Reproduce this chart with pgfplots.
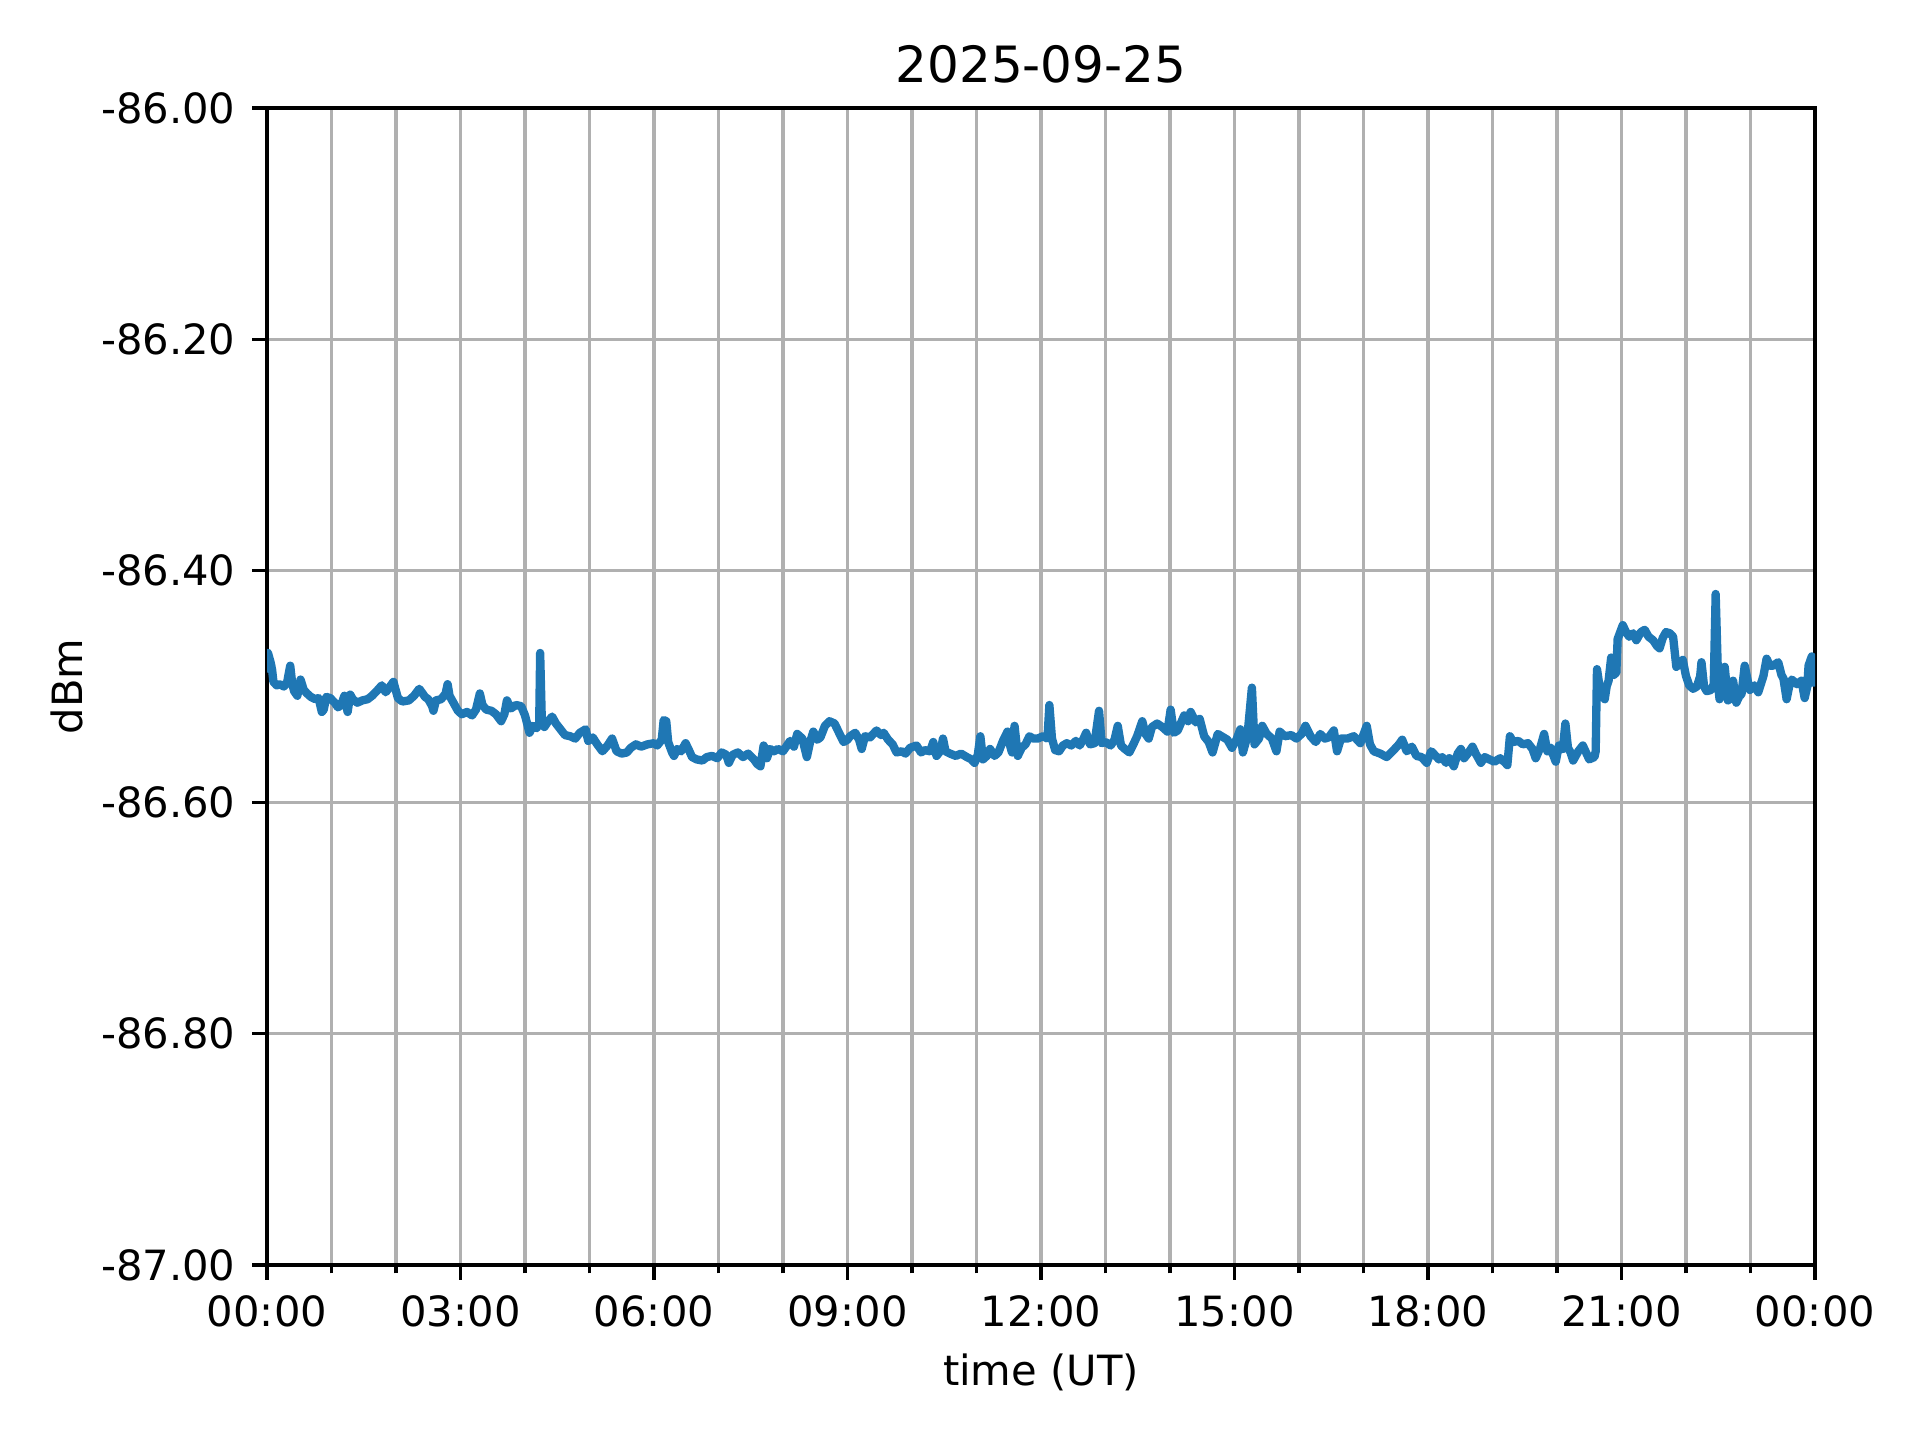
\documentclass[border=0pt]{standalone}
\usepackage{fontspec}
\setmainfont{DejaVu Sans}
\usepackage{pgfplots}
\pgfplotsset{compat=1.18}
\definecolor{mplblue}{HTML}{1F77B4}
\definecolor{gridgray}{HTML}{B0B0B0}
\pgfplotstableread{
h v
0.000 -86.488
0.015 -86.471
0.040 -86.476
0.060 -86.480
0.080 -86.486
0.100 -86.496
0.150 -86.499
0.200 -86.498
0.260 -86.500
0.310 -86.497
0.360 -86.482
0.390 -86.497
0.420 -86.504
0.470 -86.508
0.520 -86.494
0.570 -86.503
0.620 -86.506
0.680 -86.509
0.750 -86.511
0.800 -86.510
0.850 -86.522
0.880 -86.520
0.920 -86.509
0.980 -86.510
1.050 -86.514
1.100 -86.518
1.150 -86.516
1.200 -86.508
1.250 -86.522
1.290 -86.507
1.330 -86.511
1.400 -86.514
1.480 -86.512
1.560 -86.511
1.630 -86.508
1.700 -86.504
1.780 -86.499
1.840 -86.505
1.960 -86.496
2.030 -86.510
2.100 -86.513
2.200 -86.512
2.280 -86.508
2.360 -86.502
2.400 -86.505
2.450 -86.509
2.500 -86.511
2.560 -86.517
2.580 -86.521
2.620 -86.512
2.700 -86.511
2.770 -86.506
2.800 -86.498
2.830 -86.508
2.880 -86.513
2.960 -86.521
3.020 -86.524
3.100 -86.522
3.180 -86.525
3.240 -86.520
3.300 -86.506
3.340 -86.516
3.400 -86.520
3.480 -86.521
3.550 -86.524
3.630 -86.530
3.680 -86.524
3.720 -86.512
3.780 -86.519
3.860 -86.516
3.940 -86.517
4.000 -86.525
4.070 -86.540
4.120 -86.534
4.180 -86.536
4.220 -86.532
4.235 -86.471
4.260 -86.528
4.300 -86.535
4.360 -86.530
4.420 -86.526
4.480 -86.532
4.550 -86.537
4.620 -86.542
4.700 -86.543
4.780 -86.545
4.850 -86.540
4.940 -86.537
4.980 -86.547
5.050 -86.544
5.120 -86.550
5.200 -86.556
5.280 -86.551
5.350 -86.545
5.420 -86.556
5.500 -86.558
5.580 -86.557
5.640 -86.553
5.720 -86.550
5.800 -86.552
5.900 -86.550
6.000 -86.549
6.050 -86.551
6.120 -86.546
6.150 -86.529
6.190 -86.530
6.220 -86.548
6.280 -86.557
6.310 -86.560
6.360 -86.554
6.420 -86.556
6.490 -86.549
6.550 -86.556
6.590 -86.561
6.660 -86.563
6.750 -86.564
6.820 -86.561
6.900 -86.560
6.980 -86.562
7.050 -86.557
7.120 -86.559
7.160 -86.566
7.220 -86.559
7.300 -86.557
7.380 -86.561
7.460 -86.558
7.550 -86.563
7.600 -86.567
7.650 -86.569
7.700 -86.551
7.750 -86.562
7.800 -86.554
7.860 -86.556
7.920 -86.554
8.000 -86.556
8.050 -86.552
8.110 -86.547
8.170 -86.552
8.220 -86.541
8.300 -86.545
8.370 -86.561
8.420 -86.548
8.470 -86.539
8.530 -86.546
8.580 -86.544
8.650 -86.534
8.720 -86.530
8.800 -86.532
8.860 -86.539
8.940 -86.548
9.000 -86.546
9.040 -86.543
9.120 -86.540
9.180 -86.546
9.220 -86.554
9.270 -86.543
9.350 -86.544
9.450 -86.538
9.520 -86.542
9.560 -86.540
9.630 -86.546
9.700 -86.550
9.760 -86.557
9.840 -86.556
9.900 -86.558
9.970 -86.553
10.070 -86.551
10.140 -86.557
10.200 -86.555
10.280 -86.556
10.330 -86.548
10.380 -86.560
10.450 -86.555
10.480 -86.545
10.520 -86.556
10.590 -86.558
10.680 -86.560
10.760 -86.558
10.850 -86.561
10.920 -86.563
10.970 -86.566
11.020 -86.559
11.060 -86.543
11.100 -86.563
11.160 -86.560
11.210 -86.554
11.280 -86.560
11.340 -86.557
11.410 -86.547
11.480 -86.539
11.520 -86.551
11.550 -86.557
11.590 -86.534
11.640 -86.560
11.700 -86.553
11.760 -86.550
11.820 -86.543
11.880 -86.545
11.950 -86.545
12.030 -86.543
12.100 -86.545
12.130 -86.516
12.170 -86.545
12.220 -86.555
12.280 -86.556
12.340 -86.551
12.400 -86.549
12.470 -86.551
12.540 -86.547
12.600 -86.551
12.660 -86.545
12.700 -86.540
12.760 -86.550
12.830 -86.549
12.900 -86.521
12.940 -86.549
13.000 -86.548
13.080 -86.551
13.140 -86.546
13.190 -86.534
13.240 -86.551
13.300 -86.554
13.370 -86.557
13.440 -86.549
13.490 -86.543
13.570 -86.530
13.620 -86.541
13.670 -86.545
13.720 -86.535
13.800 -86.532
13.880 -86.535
13.960 -86.539
14.010 -86.520
14.060 -86.540
14.120 -86.538
14.220 -86.525
14.280 -86.530
14.320 -86.522
14.400 -86.531
14.460 -86.528
14.530 -86.543
14.600 -86.548
14.660 -86.557
14.740 -86.541
14.800 -86.543
14.890 -86.546
14.960 -86.553
15.030 -86.546
15.090 -86.537
15.130 -86.557
15.200 -86.543
15.270 -86.501
15.310 -86.550
15.380 -86.545
15.430 -86.534
15.500 -86.541
15.580 -86.545
15.650 -86.556
15.700 -86.539
15.780 -86.543
15.880 -86.542
15.960 -86.545
16.040 -86.541
16.100 -86.534
16.180 -86.543
16.260 -86.548
16.330 -86.541
16.400 -86.545
16.460 -86.544
16.540 -86.538
16.590 -86.556
16.650 -86.545
16.750 -86.545
16.850 -86.543
16.950 -86.549
17.050 -86.534
17.100 -86.550
17.160 -86.556
17.260 -86.558
17.360 -86.561
17.450 -86.556
17.550 -86.550
17.600 -86.546
17.670 -86.556
17.750 -86.552
17.820 -86.560
17.900 -86.561
17.980 -86.566
18.050 -86.556
18.120 -86.560
18.170 -86.563
18.220 -86.561
18.280 -86.566
18.330 -86.562
18.400 -86.569
18.460 -86.558
18.510 -86.554
18.560 -86.562
18.630 -86.557
18.690 -86.552
18.740 -86.558
18.820 -86.566
18.880 -86.561
18.950 -86.563
19.030 -86.565
19.120 -86.562
19.200 -86.566
19.230 -86.568
19.270 -86.543
19.320 -86.548
19.400 -86.547
19.470 -86.550
19.550 -86.549
19.620 -86.554
19.670 -86.562
19.740 -86.553
19.800 -86.541
19.850 -86.556
19.900 -86.553
19.980 -86.565
20.030 -86.551
20.090 -86.554
20.130 -86.532
20.170 -86.553
20.210 -86.557
20.250 -86.564
20.330 -86.556
20.400 -86.551
20.450 -86.557
20.500 -86.563
20.580 -86.561
20.600 -86.556
20.620 -86.485
20.660 -86.500
20.700 -86.506
20.740 -86.511
20.770 -86.500
20.800 -86.495
20.840 -86.475
20.880 -86.490
20.920 -86.488
20.940 -86.459
20.980 -86.453
21.020 -86.447
21.070 -86.453
21.120 -86.457
21.180 -86.454
21.230 -86.460
21.300 -86.453
21.360 -86.451
21.420 -86.457
21.490 -86.460
21.550 -86.465
21.590 -86.467
21.640 -86.458
21.690 -86.453
21.750 -86.454
21.800 -86.457
21.850 -86.483
21.900 -86.480
21.950 -86.477
22.000 -86.491
22.050 -86.499
22.110 -86.502
22.170 -86.500
22.220 -86.491
22.240 -86.479
22.280 -86.500
22.320 -86.504
22.390 -86.503
22.430 -86.498
22.460 -86.420
22.500 -86.500
22.520 -86.511
22.580 -86.490
22.600 -86.483
22.630 -86.500
22.650 -86.512
22.700 -86.510
22.730 -86.495
22.780 -86.514
22.830 -86.508
22.860 -86.507
22.910 -86.482
22.960 -86.496
22.990 -86.503
23.060 -86.499
23.120 -86.505
23.200 -86.491
23.250 -86.476
23.300 -86.482
23.350 -86.482
23.430 -86.479
23.480 -86.490
23.510 -86.493
23.560 -86.511
23.600 -86.500
23.640 -86.494
23.720 -86.498
23.790 -86.495
23.840 -86.510
23.880 -86.500
23.900 -86.482
23.950 -86.474
23.980 -86.485
24.000 -86.500
}\datatable
\begin{document}
\begin{tikzpicture}
\useasboundingbox (0,0) rectangle (460.8pt,345.6pt);
\begin{axis}[
  at={(64.08pt,42pt)}, anchor=south west,
  scale only axis, width=371.52pt, height=277.68pt,
  xmin=0, xmax=24, ymin=-87, ymax=-86,
  xtick={0,3,6,9,12,15,18,21,24},
  minor xtick={1,2,4,5,7,8,10,11,13,14,16,17,19,20,22,23},
  xticklabels={{00:00},{03:00},{06:00},{09:00},{12:00},{15:00},{18:00},{21:00},{00:00}},
  ytick={-87,-86.8,-86.6,-86.4,-86.2,-86},
  yticklabels={{-87.00},{-86.80},{-86.60},{-86.40},{-86.20},{-86.00}},
  grid=both,
  major grid style={gridgray, line width=0.8pt},
  minor grid style={gridgray, line width=0.8pt},
  tick pos=left, tick align=outside,
  major tick length=3.5pt, minor tick length=2pt,
  tick style={black, line width=0.8pt},
  axis line style={line width=0.8pt},
  /pgf/number format/assume math mode=true,
  font=\fontsize{10}{12}\selectfont,
  xticklabel style={anchor=base, inner sep=0pt, yshift=-11.2pt},
  yticklabel style={anchor=east, inner sep=0pt, xshift=-3.9pt},
  every axis title shift=0pt,
  title={2025-09-25},
  title style={at={(axis description cs:0.5,1.0216)}, anchor=base, inner sep=0pt, font=\fontsize{12}{14}\selectfont},
  xlabel={time (UT)},
  xlabel style={at={(axis description cs:0.5,-0.1044)}, anchor=base, inner sep=0pt},
  ylabel={dBm},
  ylabel style={at={(axis description cs:-0.1195,0.5)}, anchor=base, inner sep=0pt},
]
\addplot[mplblue, line width=2pt, line join=round] table[x=h, y=v] {\datatable};
\end{axis}
\end{tikzpicture}
\end{document}
